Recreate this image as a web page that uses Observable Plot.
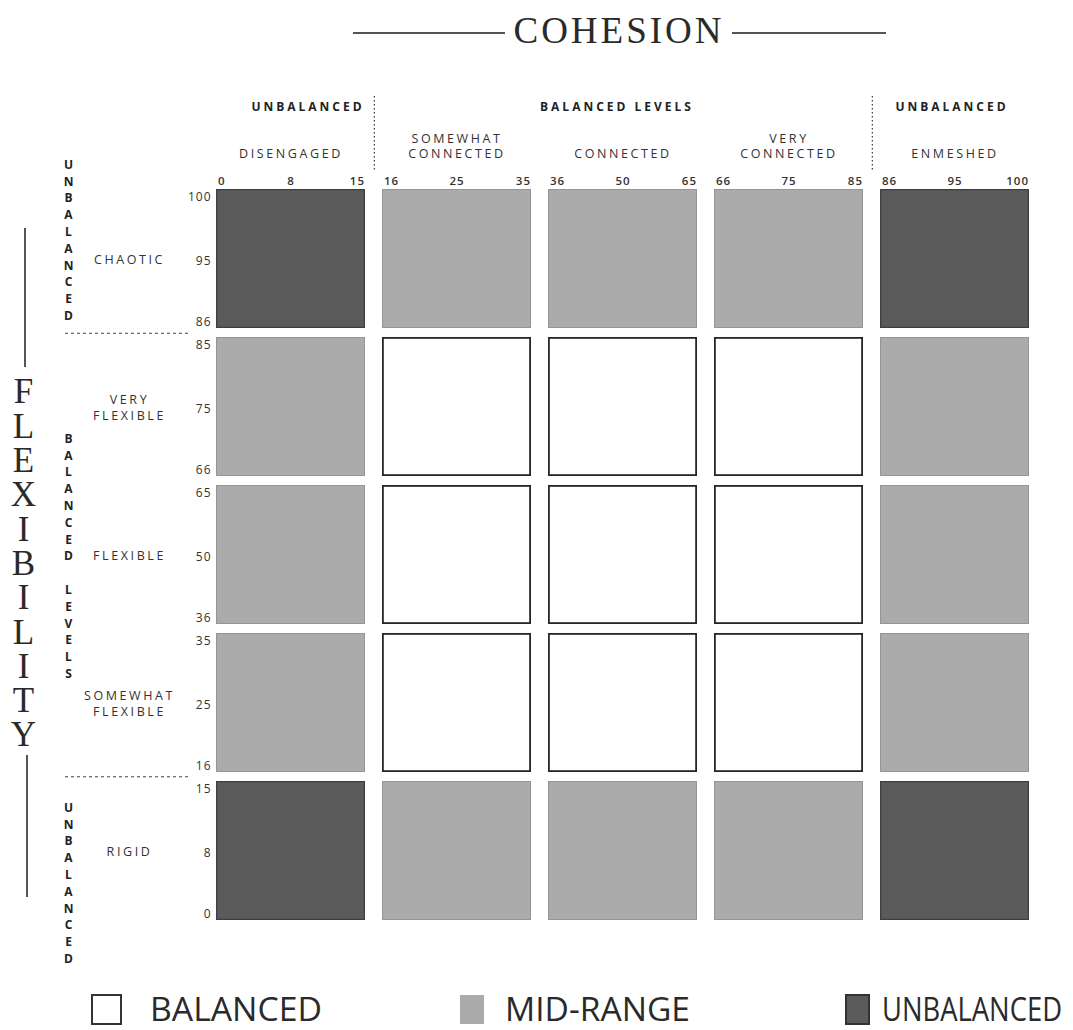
<!DOCTYPE html>
<html><head><meta charset="utf-8">
<script src="https://cdn.jsdelivr.net/npm/d3@7"></script>
<script src="https://cdn.jsdelivr.net/npm/@observablehq/plot@0.6"></script>
<style>
body{margin:0;background:#fff;}
#wrap{position:relative;width:1073px;height:1030px;overflow:hidden;background:#fff;}
#wrap svg{position:absolute;left:0;top:0;}
.hline{position:absolute;height:2px;background:#555;}
.vline{position:absolute;width:2px;background:#555;}
#title{position:absolute;left:505px;width:228px;top:10px;height:42px;line-height:42px;text-align:center;font-family:'Liberation Serif',serif;font-size:37px;letter-spacing:3px;color:#2a2a2a;}
</style></head><body><div id="wrap">
<div class="hline" style="left:353px;width:152px;top:32px"></div>
<div id="title">COHESION</div>
<div class="hline" style="left:732px;width:154px;top:32px"></div>
<div class="vline" style="left:24px;top:228px;height:139px"></div>
<div class="vline" style="left:26px;top:755px;height:142px"></div>
</div>
<script>
// ---- data ----
const cohesionLevels = ["DISENGAGED", "SOMEWHAT CONNECTED", "CONNECTED", "VERY CONNECTED", "ENMESHED"];
const cohesionLabels = ["DISENGAGED", "SOMEWHAT\nCONNECTED", "CONNECTED", "VERY\nCONNECTED", "ENMESHED"];
const cohesionBalance = ["unbalanced", "balanced", "balanced", "balanced", "unbalanced"];
const cohesionTicks = [[0, 8, 15], [16, 25, 35], [36, 50, 65], [66, 75, 85], [86, 95, 100]];

const flexibilityLevels = ["CHAOTIC", "VERY FLEXIBLE", "FLEXIBLE", "SOMEWHAT FLEXIBLE", "RIGID"];
const flexibilityLabels = ["CHAOTIC", "VERY\nFLEXIBLE", "FLEXIBLE", "SOMEWHAT\nFLEXIBLE", "RIGID"];
const flexibilityBalance = ["unbalanced", "balanced", "balanced", "balanced", "unbalanced"];
const flexibilityTicks = [[100, 95, 86], [85, 75, 66], [65, 50, 36], [35, 25, 16], [15, 8, 0]];

const typeNames = ["BALANCED", "MID-RANGE", "UNBALANCED"];
const typeFills = ["#ffffff", "#ababab", "#5b5b5b"];

// ---- layout ----
const W = 1073, H = 1030, ML = 214, MR = 42, MT = 188, MB = 109;
const padX = 0.1, padY = 0.064;
const stepX = (W - ML - MR) / (cohesionLevels.length - padX), bwX = stepX * (1 - padX);
const stepY = (H - MT - MB) / (flexibilityLevels.length - padY), bwY = stepY * (1 - padY);

const cells = [];
flexibilityLevels.forEach((r, i) => cohesionLevels.forEach((c, j) => {
  const a = cohesionBalance[j], b = flexibilityBalance[i];
  const type = a === "balanced" && b === "balanced" ? "BALANCED"
    : a === "unbalanced" && b === "unbalanced" ? "UNBALANCED" : "MID-RANGE";
  cells.push({row: r, col: c, type});
}));
const xTicks = cohesionLevels.flatMap((c, j) => cohesionTicks[j].map((v, k) => ({col: c, value: v, k})));
const yTicks = flexibilityLevels.flatMap((r, i) => flexibilityTicks[i].map((v, k) => ({row: r, value: v, k})));

const sans = "'Open Sans', 'DejaVu Sans', sans-serif";
const ink = "#333";

// marks, each with an optional letter-spacing (applied after render)
const spec = [];
const add = (mark, spacing) => spec.push({mark, spacing});

add(Plot.cell(cells, {x: "col", y: "row", fill: "type", inset: 0}));
add(Plot.cell(cells.filter(d => d.type === "MID-RANGE"), {x: "col", y: "row", fill: "none", stroke: "#959595", strokeWidth: 1, inset: 0.5}));
add(Plot.cell(cells.filter(d => d.type === "UNBALANCED"), {x: "col", y: "row", fill: "none", stroke: "#3e3e3e", strokeWidth: 1.2, inset: 0.6}));
add(Plot.cell(cells.filter(d => d.type === "BALANCED"), {x: "col", y: "row", fill: "none", stroke: "#262626", strokeWidth: 1.8, inset: 0.9}));
// dotted separators between column groups
add(Plot.ruleX([cohesionLevels[0], cohesionLevels[3]], {x: d => d, dx: stepX / 2, insetTop: 96 - MT, insetBottom: (H - MB) - 172, stroke: "#444", strokeWidth: 1.3, strokeDasharray: "1.5,2.5"}));
// dashed separators between row groups
add(Plot.ruleY([flexibilityLevels[0]], {y: d => d, dy: stepY / 2, insetLeft: 65 - ML, insetRight: (W - MR) - 190, stroke: "#444", strokeWidth: 1.2, strokeDasharray: "3,3"}));
add(Plot.ruleY([flexibilityLevels[4]], {y: d => d, dy: -stepY / 2, insetLeft: 65 - ML, insetRight: (W - MR) - 190, stroke: "#444", strokeWidth: 1.2, strokeDasharray: "3,3"}));
// group headers
const headerOpts = {x: "col", text: "label", frameAnchor: "top", lineAnchor: "middle", dy: 107 - MT, fontWeight: "bold", fontSize: 12, fill: "#222"};
add(Plot.text([{col: cohesionLevels[0], label: "UNBALANCED"}], {...headerOpts, dx: 17}), "3px");
add(Plot.text([{col: cohesionLevels[2], label: "BALANCED LEVELS"}], {...headerOpts, dx: -6}), "3px");
add(Plot.text([{col: cohesionLevels[4], label: "UNBALANCED"}], {...headerOpts, dx: -3}), "3px");
// column labels
add(Plot.text(cohesionLevels, {x: d => d, text: (d, i) => cohesionLabels[i], frameAnchor: "top", dy: 157 - MT, lineAnchor: "bottom", lineHeight: 1.2, fontSize: 12.5, fill: ink}), "2.6px");
// x tick labels
const xtOpts = {x: "col", text: "value", frameAnchor: "top", lineAnchor: "middle", dy: -7, fontSize: 11.5, fontWeight: "600", fill: ink};
add(Plot.text(xTicks.filter(d => d.k === 0), {...xtOpts, dx: -bwX / 2 + 2, textAnchor: "start"}), "1px");
add(Plot.text(xTicks.filter(d => d.k === 1), {...xtOpts}), "1px");
add(Plot.text(xTicks.filter(d => d.k === 2), {...xtOpts, dx: bwX / 2 - 1, textAnchor: "end"}), "1px");
// y tick labels
const ytOpts = {y: "row", text: "value", frameAnchor: "left", dx: -3, textAnchor: "end", fontSize: 12, fill: ink};
add(Plot.text(yTicks.filter(d => d.k === 0), {...ytOpts, dy: -bwY / 2 + 8}), "1px");
add(Plot.text(yTicks.filter(d => d.k === 1), {...ytOpts, dy: 2}), "1px");
add(Plot.text(yTicks.filter(d => d.k === 2), {...ytOpts, dy: bwY / 2 - 6}), "1px");
// row labels
add(Plot.text(flexibilityLevels, {y: d => d, text: (d, i) => flexibilityLabels[i], frameAnchor: "left", textAnchor: "middle", dx: 129 - ML, lineHeight: 1.3, fontSize: 12.5, fill: ink}), "2.6px");
// vertical group labels
const vOpts = {y: d => d, frameAnchor: "left", textAnchor: "middle", dx: 68 - ML, lineHeight: 1.4, fontSize: 12, fontWeight: "bold", fill: "#222"};
add(Plot.text([flexibilityLevels[0]], {...vOpts, text: () => "UNBALANCED".split("").join("\n"), dy: -20}));
add(Plot.text([flexibilityLevels[2]], {...vOpts, text: () => "BALANCED LEVELS".split("").join("\n"), dy: 0}));
add(Plot.text([flexibilityLevels[4]], {...vOpts, text: () => "UNBALANCED".split("").join("\n"), dy: 31}));
// FLEXIBILITY axis title
add(Plot.text(["FLEXIBILITY"], {text: d => d.split("").join("\n"), frameAnchor: "left", textAnchor: "middle", dx: 23 - ML, dy: 9, lineHeight: 0.98, fontSize: 35, fontFamily: "'Liberation Serif', serif", fill: "#2a2a2a"}));

const plot = Plot.plot({
  width: W, height: H, marginLeft: ML, marginRight: MR, marginTop: MT, marginBottom: MB,
  x: {type: "band", domain: cohesionLevels, paddingInner: padX, paddingOuter: 0, axis: null},
  y: {type: "band", domain: flexibilityLevels, paddingInner: padY, paddingOuter: 0, axis: null},
  color: {type: "ordinal", domain: typeNames, range: typeFills},
  style: {fontFamily: sans, color: ink, background: "transparent", overflow: "visible"},
  marks: spec.map(s => s.mark)
});
// apply letter spacing to the mark groups (one <g> per mark, in order)
const groups = Array.from(plot.children).filter(n => n.tagName === "g");
spec.forEach((s, i) => { if (s.spacing && groups[i]) groups[i].style.letterSpacing = s.spacing; });
document.getElementById("wrap").appendChild(plot);

// ---- legend ----
const legendItems = [
  {type: "BALANCED", sx: 92, sw: 29, tx: 150, tw: 172},
  {type: "MID-RANGE", sx: 460, sw: 24, tx: 505, tw: 185},
  {type: "UNBALANCED", sx: 846, sw: 23, tx: 882, tw: 180}
];
const leg = d3.select("#wrap").append("svg").attr("width", W).attr("height", 45).style("top", "985px");
const g = leg.selectAll("g").data(legendItems).join("g");
g.append("rect").attr("x", d => d.sx).attr("y", 10).attr("width", d => d.sw).attr("height", 29)
  .attr("fill", d => typeFills[typeNames.indexOf(d.type)])
  .attr("stroke", d => d.type === "MID-RANGE" ? "none" : "#333")
  .attr("stroke-width", 2);
g.append("text").attr("x", d => d.tx).attr("y", 36).attr("textLength", d => d.tw).attr("lengthAdjust", "spacingAndGlyphs")
  .attr("font-family", sans).attr("font-size", 32).attr("fill", "#2a2a2a").text(d => d.type);
</script></body></html>
